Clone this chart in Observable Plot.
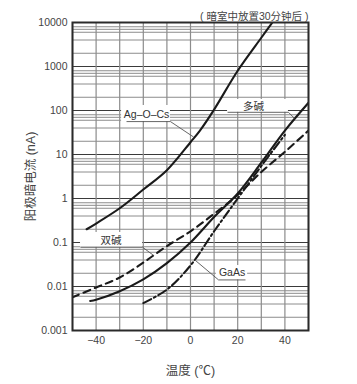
<!DOCTYPE html>
<html>
<head>
<meta charset="utf-8">
<script src="https://cdn.jsdelivr.net/npm/d3@7"></script>
<script src="https://cdn.jsdelivr.net/npm/@observablehq/plot@0.6"></script>
<style>
  html, body { margin: 0; padding: 0; background: #fff; }
  svg { font-family: "Liberation Sans", "Noto Sans CJK SC", sans-serif; }
</style>
</head>
<body>
<div id="chart"></div>
<script>
// ---- data (temperature °C, anode dark current nA) ----
const agocsT = [-44, -40, -30, -20, -10, 0, 4, 10, 20, 30, 34.7];
const agocsI = [0.2, 0.27, 0.6, 1.6, 4.4, 19, 35, 105, 800, 4500, 10000];

const multiT = [-42.5, -40, -30, -20, -10, 0, 10, 20, 30, 40, 50];
const multiI = [0.0047, 0.005, 0.0078, 0.0145, 0.034, 0.10, 0.38, 1.3, 6.5, 35, 150];

const bialkT = [-50, -40, -30, -20, -10, 0, 10, 20, 30, 40, 50];
const bialkI = [0.0057, 0.0095, 0.016, 0.035, 0.083, 0.18, 0.45, 1.2, 4, 11.5, 35];

const gaasT = [-20, -10, 0, 10, 20, 30, 40];
const gaasI = [0.0042, 0.0085, 0.03, 0.18, 1.0, 5.5, 28];

// axis ticks
const xTicks = [-40, -20, 0, 20, 40];
const xTickLabels = ["−40", "−20", "0", "20", "40"];
const yTicks = [0.001, 0.01, 0.1, 1, 10, 100, 1000, 10000];
const yTickLabels = ["0.001", "0.01", "0.1", "1", "10", "100", "1000", "10000"];
const xGrid = [-50, -40, -30, -20, -10, 0, 10, 20, 30, 40, 50];
const minorMult = [2, 4, 6, 7, 8];
const yMinor = yTicks.slice(0, -1).flatMap(d => minorMult.map(m => d * m));

// texts
const noteText = "( 暗室中放置30分钟后 )";
const yLabel = "阳极暗电流 (nA)";
const xLabel = "温度 (℃)";

// annotations (data units)
const annLabels = ["Ag–O–Cs", "多碱", "双碱", "GaAs"];
const annTextX = [-18.6, 26.7, -33.7, 17.6];
const annTextY = [81, 120, 0.108, 0.0203];
const annBoxX1 = [-29.2, 15.7, -46.6, 11.0];
const annBoxX2 = [-8.5, 41.5, -20.3, 24.2];
const annBoxY1 = [56, 91, 0.078, 0.0141];
const annBoxY2 = [130, 178, 0.169, 0.030];
const annLineX1 = [-27.1, 15.7, -46.6, 11.9];   // underline start
const annLineX2 = [-8.5, 41.5, -20.3, 23.3];    // underline end
const annTipX = [1.3, 44.1, -15.6, 2.1];        // leader tip
const annTipY = [25, 66, 0.0507, 0.039];

const ann = annLabels.map((label, i) => ({
  label, tx: annTextX[i], ty: annTextY[i],
  bx1: annBoxX1[i], bx2: annBoxX2[i], by1: annBoxY1[i], by2: annBoxY2[i],
  lx1: annLineX1[i], lx2: annLineX2[i], uy: annBoxY1[i],
  tipX: annTipX[i], tipY: annTipY[i],
  sx: (annTipX[i] > annLineX2[i]) ? annLineX2[i] : annLineX1[i]
}));
ann[3].sx = annLineX1[3];

const ink = "#1a1a1a";
const textGray = "#444";

const chart = Plot.plot({
  width: 357,
  height: 384,
  marginLeft: 72,
  marginRight: 49,
  marginTop: 22,
  marginBottom: 54,
  style: { fontFamily: "'Liberation Sans', 'Noto Sans CJK SC', sans-serif", fontSize: "10px", color: textGray, background: "#fff" },
  x: { domain: [-50, 50] },
  y: { type: "log", domain: [0.001, 10000] },
  marks: [
    // grid
    Plot.ruleY(yMinor, { stroke: "#8c8c8c", strokeWidth: 1 }),
    Plot.ruleY(yTicks, { stroke: "#3a3a3a", strokeWidth: 1 }),
    Plot.ruleX(xGrid, { stroke: "#8c8c8c", strokeWidth: 1.2 }),
    // annotation boxes
    Plot.rect(ann, { x1: "bx1", x2: "bx2", y1: "by1", y2: "by2", fill: "#fff" }),
    // curves
    Plot.line(agocsT, { x: agocsT, y: agocsI, stroke: ink, strokeWidth: 2.1, curve: "catmull-rom", clip: true }),
    Plot.line(multiT, { x: multiT, y: multiI, stroke: ink, strokeWidth: 2.1, curve: "catmull-rom", clip: true }),
    Plot.line(bialkT, { x: bialkT, y: bialkI, stroke: ink, strokeWidth: 2.1, strokeDasharray: "7,5", curve: "catmull-rom", clip: true }),
    Plot.line(gaasT, { x: gaasT, y: gaasI, stroke: ink, strokeWidth: 2.1, strokeDasharray: "9,3,2,3", curve: "catmull-rom", clip: true }),
    // annotation underline + leader
    Plot.link(ann, { x1: "lx1", x2: "lx2", y1: "uy", y2: "uy", stroke: "#555", strokeWidth: 0.9 }),
    Plot.link(ann, { x1: "sx", x2: "tipX", y1: "uy", y2: "tipY", stroke: "#555", strokeWidth: 0.9 }),
    Plot.text(ann, { x: "tx", y: "ty", text: "label", fontSize: 10.5, fill: "#333" }),
    // frame
    Plot.frame({ stroke: "#2a2a2a", strokeWidth: 2 }),
    // axes
    Plot.axisX({ ticks: xTicks, tickFormat: d => xTickLabels[xTicks.indexOf(d)], tickSize: 0, tickPadding: 6, fontSize: 10.5, fill: textGray,
                 label: xLabel, labelAnchor: "center", labelOffset: 44, labelArrow: "none" }),
    Plot.axisY({ ticks: yTicks, tickFormat: d => yTickLabels[yTicks.indexOf(d)], tickSize: 0, tickPadding: 5, fontSize: 10.5, fill: textGray,
                 label: yLabel, labelAnchor: "center", labelOffset: 46, labelArrow: "none" }),
    // note
    Plot.text([noteText], { frameAnchor: "top-right", text: d => d, textAnchor: "end", dy: -10, dx: 0, fontSize: 10.5, fill: textGray })
  ]
});

// axis label font size; strip any arrow
chart.querySelectorAll("[aria-label='x-axis label'] text, [aria-label='y-axis label'] text").forEach(t => {
  t.setAttribute("font-size", "12.5");
  t.textContent = t.textContent.replace(/\s*[↑→←↓]\s*/g, "");
});
document.getElementById("chart").append(chart);
</script>
</body>
</html>
